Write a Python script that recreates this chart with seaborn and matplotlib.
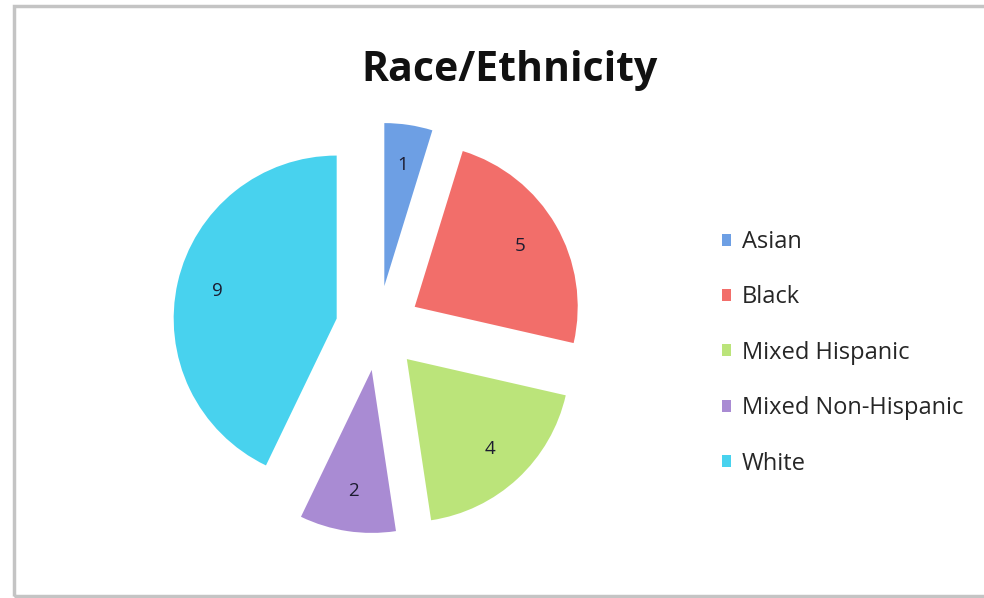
import matplotlib
matplotlib.use("Agg")
from matplotlib import pyplot as plt
from matplotlib.patches import Rectangle
import seaborn as sns

# Data
categories = ["Asian", "Black", "Mixed Hispanic", "Mixed Non-Hispanic", "White"]
counts = [1, 5, 4, 2, 9]
colors = ["#6d9fe4", "#f26e6a", "#bbe47a", "#a98bd3", "#48d2ee"]
title = "Race/Ethnicity"

sns.set_style("white")
plt.rcParams["font.family"] = ["Open Sans", "DejaVu Sans"]

fig = plt.figure(figsize=(9.84, 5.98), dpi=100)

# pie centre ~ (378, 328) px, radius ~163 px
cx, cy, r, half = 378, 328, 163, 215
ax = fig.add_axes([(cx - half) / 984, (598 - cy - half) / 598,
                   2 * half / 984, 2 * half / 598])

total = sum(counts)
wedges, texts, autotexts = ax.pie(
    counts,
    colors=colors,
    startangle=90,
    counterclock=False,
    explode=[0.26] * len(counts),
    autopct=lambda p: f"{p * total / 100:.0f}",
    pctdistance=0.75,
    wedgeprops=dict(linewidth=0),
    textprops=dict(fontsize=13.5, color="#1c1c30"),
)
lim = half / r
ax.set_xlim(-lim, lim)
ax.set_ylim(-lim, lim)
ax.set_aspect("equal")
ax.axis("off")

fig.text(510 / 984, 1 - 81 / 598, title, ha="center", va="baseline",
         fontsize=29.5, fontweight="bold", color="#111111")

fig.legend(wedges, categories, loc="upper left",
           bbox_to_anchor=(722 / 984, 1 - 230 / 598),
           frameon=False, fontsize=17, handlelength=0.4, handleheight=0.4,
           handletextpad=0.45, labelspacing=1.33, borderaxespad=0,
           borderpad=0)

# light grey chart border
fig.patches.append(Rectangle((14 / 984, 2 / 598), 1.0, 590 / 598,
                             transform=fig.transFigure, fill=False,
                             edgecolor="#c4c4c4", linewidth=2.5))

fig.savefig("out.png", dpi=100)
